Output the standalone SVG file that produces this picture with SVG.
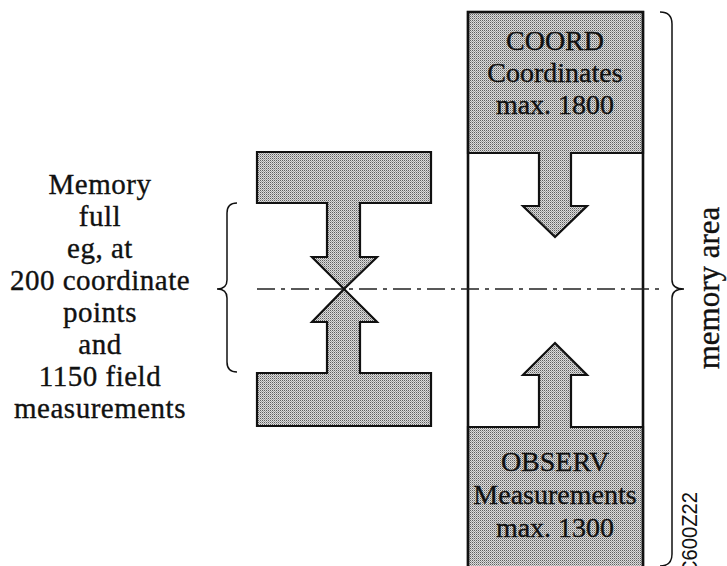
<svg xmlns="http://www.w3.org/2000/svg" width="727" height="566" viewBox="0 0 727 566">
  <defs>
    <!-- fine halftone dot screen used for the shaded areas -->
    <pattern id="screen" width="2" height="2" patternUnits="userSpaceOnUse">
      <rect width="2" height="2" fill="#dcdcdc"/>
      <rect x="0" y="0" width="1" height="1" fill="#5e5e5e"/>
      <rect x="1" y="1" width="1" height="1" fill="#a0a0a0"/>
    </pattern>
  </defs>
  <style>
    .shade { fill: url(#screen); stroke: #111; stroke-width: 2.2; stroke-linejoin: miter; }
    .frame { fill: none; stroke: #111; stroke-width: 2.6; }
    .brace { fill: none; stroke: #111; stroke-width: 1.5; }
    .serif { font-family: "Liberation Serif", "Times New Roman", serif; font-size: 28px; fill: #111; stroke: #111; stroke-width: 0.35; text-anchor: middle; }
    .note { font-size: 29px; letter-spacing: 0.5px; }
    .code { font-family: "Liberation Sans", Arial, sans-serif; font-size: 22px; fill: #111; }
    .axis { stroke: #222; stroke-width: 1.4; stroke-dasharray: 18 6 4 6; fill: none; }
  </style>

  <rect width="727" height="566" fill="#fff"/>

  <!-- left: memory-full illustration, two blocks meeting in the middle -->
  <g id="full-top">
    <path class="shade" d="M257,152 H431 V203 H360 V257 H377 L344,289 L312,257 H327 V203 H257 Z"/>
  </g>
  <g id="full-bottom">
    <path class="shade" d="M257,426 H431 V373 H360 V322 H377 L344,289 L312,322 H327 V373 H257 Z"/>
  </g>

  <!-- right: memory column -->
  <g id="memory-column">
    <rect x="468" y="12" width="175" height="570" fill="#fff"/>
  </g>

  <g id="coord">
    <path class="shade" d="M468,12 H643 V153 H571 V206 H587 L555,237 L523,206 H539 V153 H468 Z"/>
    <text class="serif" x="555" y="50">COORD</text>
    <text class="serif" x="555" y="82">Coordinates</text>
    <text class="serif" x="555" y="114">max. 1800</text>
  </g>

  <g id="observ">
    <path class="shade" d="M468,582 V427 H539 V375 H523 L555,343 L587,375 H571 V427 H643 V582 Z"/>
    <text class="serif" x="555" y="471">OBSERV</text>
    <text class="serif" x="555" y="504">Measurements</text>
    <text class="serif" x="555" y="537">max. 1300</text>
  </g>

  <g id="memory-column-frame">
    <rect class="frame" x="468" y="12" width="175" height="570"/>
  </g>

  <!-- boundary line where the two areas meet -->
  <g id="connectors">
    <line class="axis" x1="257" y1="289" x2="665" y2="289"/>
  </g>

  <g id="brace-left">
    <path class="brace" d="M237,203 Q227,203 227,213 L227,280 Q227,289 217,289 Q227,289 227,298 L227,362 Q227,372 237,372"/>
  </g>

  <g id="brace-right">
    <path class="brace" d="M660,12 Q672,12 672,24 L672,280 Q672,289 684,289 Q672,289 672,298 L672,554 Q672,566 660,566"/>
  </g>

  <g id="note-left">
    <text class="serif note" x="100" y="194">Memory</text>
    <text class="serif note" x="100" y="226">full</text>
    <text class="serif note" x="100" y="258">eg, at</text>
    <text class="serif note" x="100" y="290">200 coordinate</text>
    <text class="serif note" x="100" y="322">points</text>
    <text class="serif note" x="100" y="354">and</text>
    <text class="serif note" x="100" y="386">1150 field</text>
    <text class="serif note" x="100" y="418">measurements</text>
  </g>

  <g id="label-memory-area">
    <text class="serif" style="font-size:31px" transform="translate(719,288) rotate(-90)" x="0" y="0">memory area</text>
  </g>

  <g id="figure-code">
    <text class="code" transform="translate(697,575) rotate(-90)" x="0" y="0" textLength="83" lengthAdjust="spacingAndGlyphs">C600Z22</text>
  </g>
</svg>
